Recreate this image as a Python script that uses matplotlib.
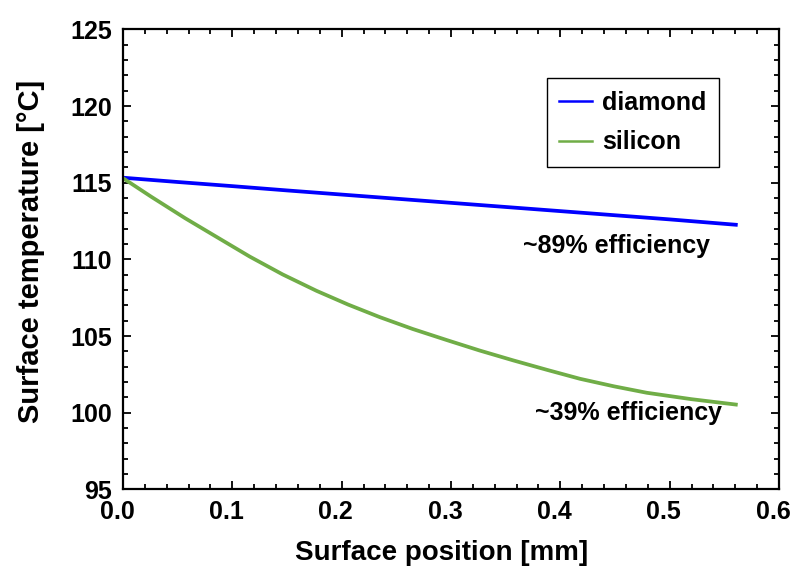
import numpy as np
import matplotlib
matplotlib.use('Agg')
import matplotlib.pyplot as plt
from matplotlib.ticker import MultipleLocator
from matplotlib.transforms import ScaledTranslation

# values
diamond_x = [0.0, 0.05, 0.10, 0.15, 0.20, 0.25, 0.30, 0.35, 0.40, 0.45, 0.50, 0.5605]
diamond_t = [115.33, 115.05, 114.78, 114.50, 114.23, 113.96, 113.69, 113.42, 113.15, 112.88, 112.61, 112.26]

silicon_x = [0.0, 0.026, 0.057, 0.086, 0.116, 0.146, 0.177, 0.206, 0.235, 0.265, 0.296,
             0.326, 0.357, 0.388, 0.418, 0.449, 0.479, 0.520, 0.5605]
silicon_t = [115.30, 114.08, 112.68, 111.45, 110.18, 109.02, 107.95, 107.05, 106.23, 105.46, 104.74,
             104.06, 103.41, 102.79, 102.21, 101.72, 101.30, 100.88, 100.53]

x_ticks = [0.0, 0.1, 0.2, 0.3, 0.4, 0.5, 0.6]
y_ticks = [95, 100, 105, 110, 115, 120, 125]

plt.rcParams['font.family'] = ['Liberation Sans', 'DejaVu Sans']
plt.rcParams['font.weight'] = 'bold'

fig = plt.figure(figsize=(7.92, 5.67), dpi=100)
ax = fig.add_axes([0.1553, 0.137, 0.9836 - 0.1553, 0.948 - 0.137])

ax.plot(diamond_x, diamond_t, color='#0000FF', lw=2.7, label='diamond')
ax.plot(silicon_x, silicon_t, color='#70AD47', lw=2.7, label='silicon')

ax.set_xlim(0, 0.6)
ax.set_ylim(95, 125)
ax.set_xticks(x_ticks)
ax.set_yticks(y_ticks)
ax.set_xticklabels([f'{v:.1f}' for v in x_ticks])
ax.xaxis.set_minor_locator(MultipleLocator(0.02))
ax.yaxis.set_minor_locator(MultipleLocator(1))

ax.tick_params(which='both', direction='in', top=True, right=True, width=1.3)
ax.tick_params(which='major', length=6, pad=8, labelsize=18)
ax.tick_params(which='minor', length=3.5)
for s in ax.spines.values():
    s.set_linewidth(1.6)

# x tick labels sit a bit left of their ticks in the original
shift = ScaledTranslation(-6 / 100, 0, fig.dpi_scale_trans)
for lab in ax.get_xticklabels():
    lab.set_transform(lab.get_transform() + shift)

ax.set_xlabel('Surface position [mm]', fontsize=20, fontweight='bold', labelpad=11)
ax.set_ylabel('Surface temperature [°C]', fontsize=21, fontweight='bold', labelpad=18)
ax.xaxis.label.set_x(0.485)
ax.yaxis.label.set_y(0.517)

ax.text(0.537, 110.9, '~89% efficiency', ha='right', va='center', fontsize=18, fontweight='bold')
ax.text(0.548, 100.0, '~39% efficiency', ha='right', va='center', fontsize=18, fontweight='bold')

leg = ax.legend(loc='upper right', bbox_to_anchor=(0.9085, 0.8935), borderaxespad=0,
                fontsize=18, fancybox=False, framealpha=1, edgecolor='black',
                handlelength=1.32, handletextpad=0.4, borderpad=0.5, labelspacing=0.62)
leg.get_frame().set_linewidth(1.0)
for line in leg.get_lines():
    line.set_linewidth(1.8)

fig.savefig('out.png', dpi=100)
